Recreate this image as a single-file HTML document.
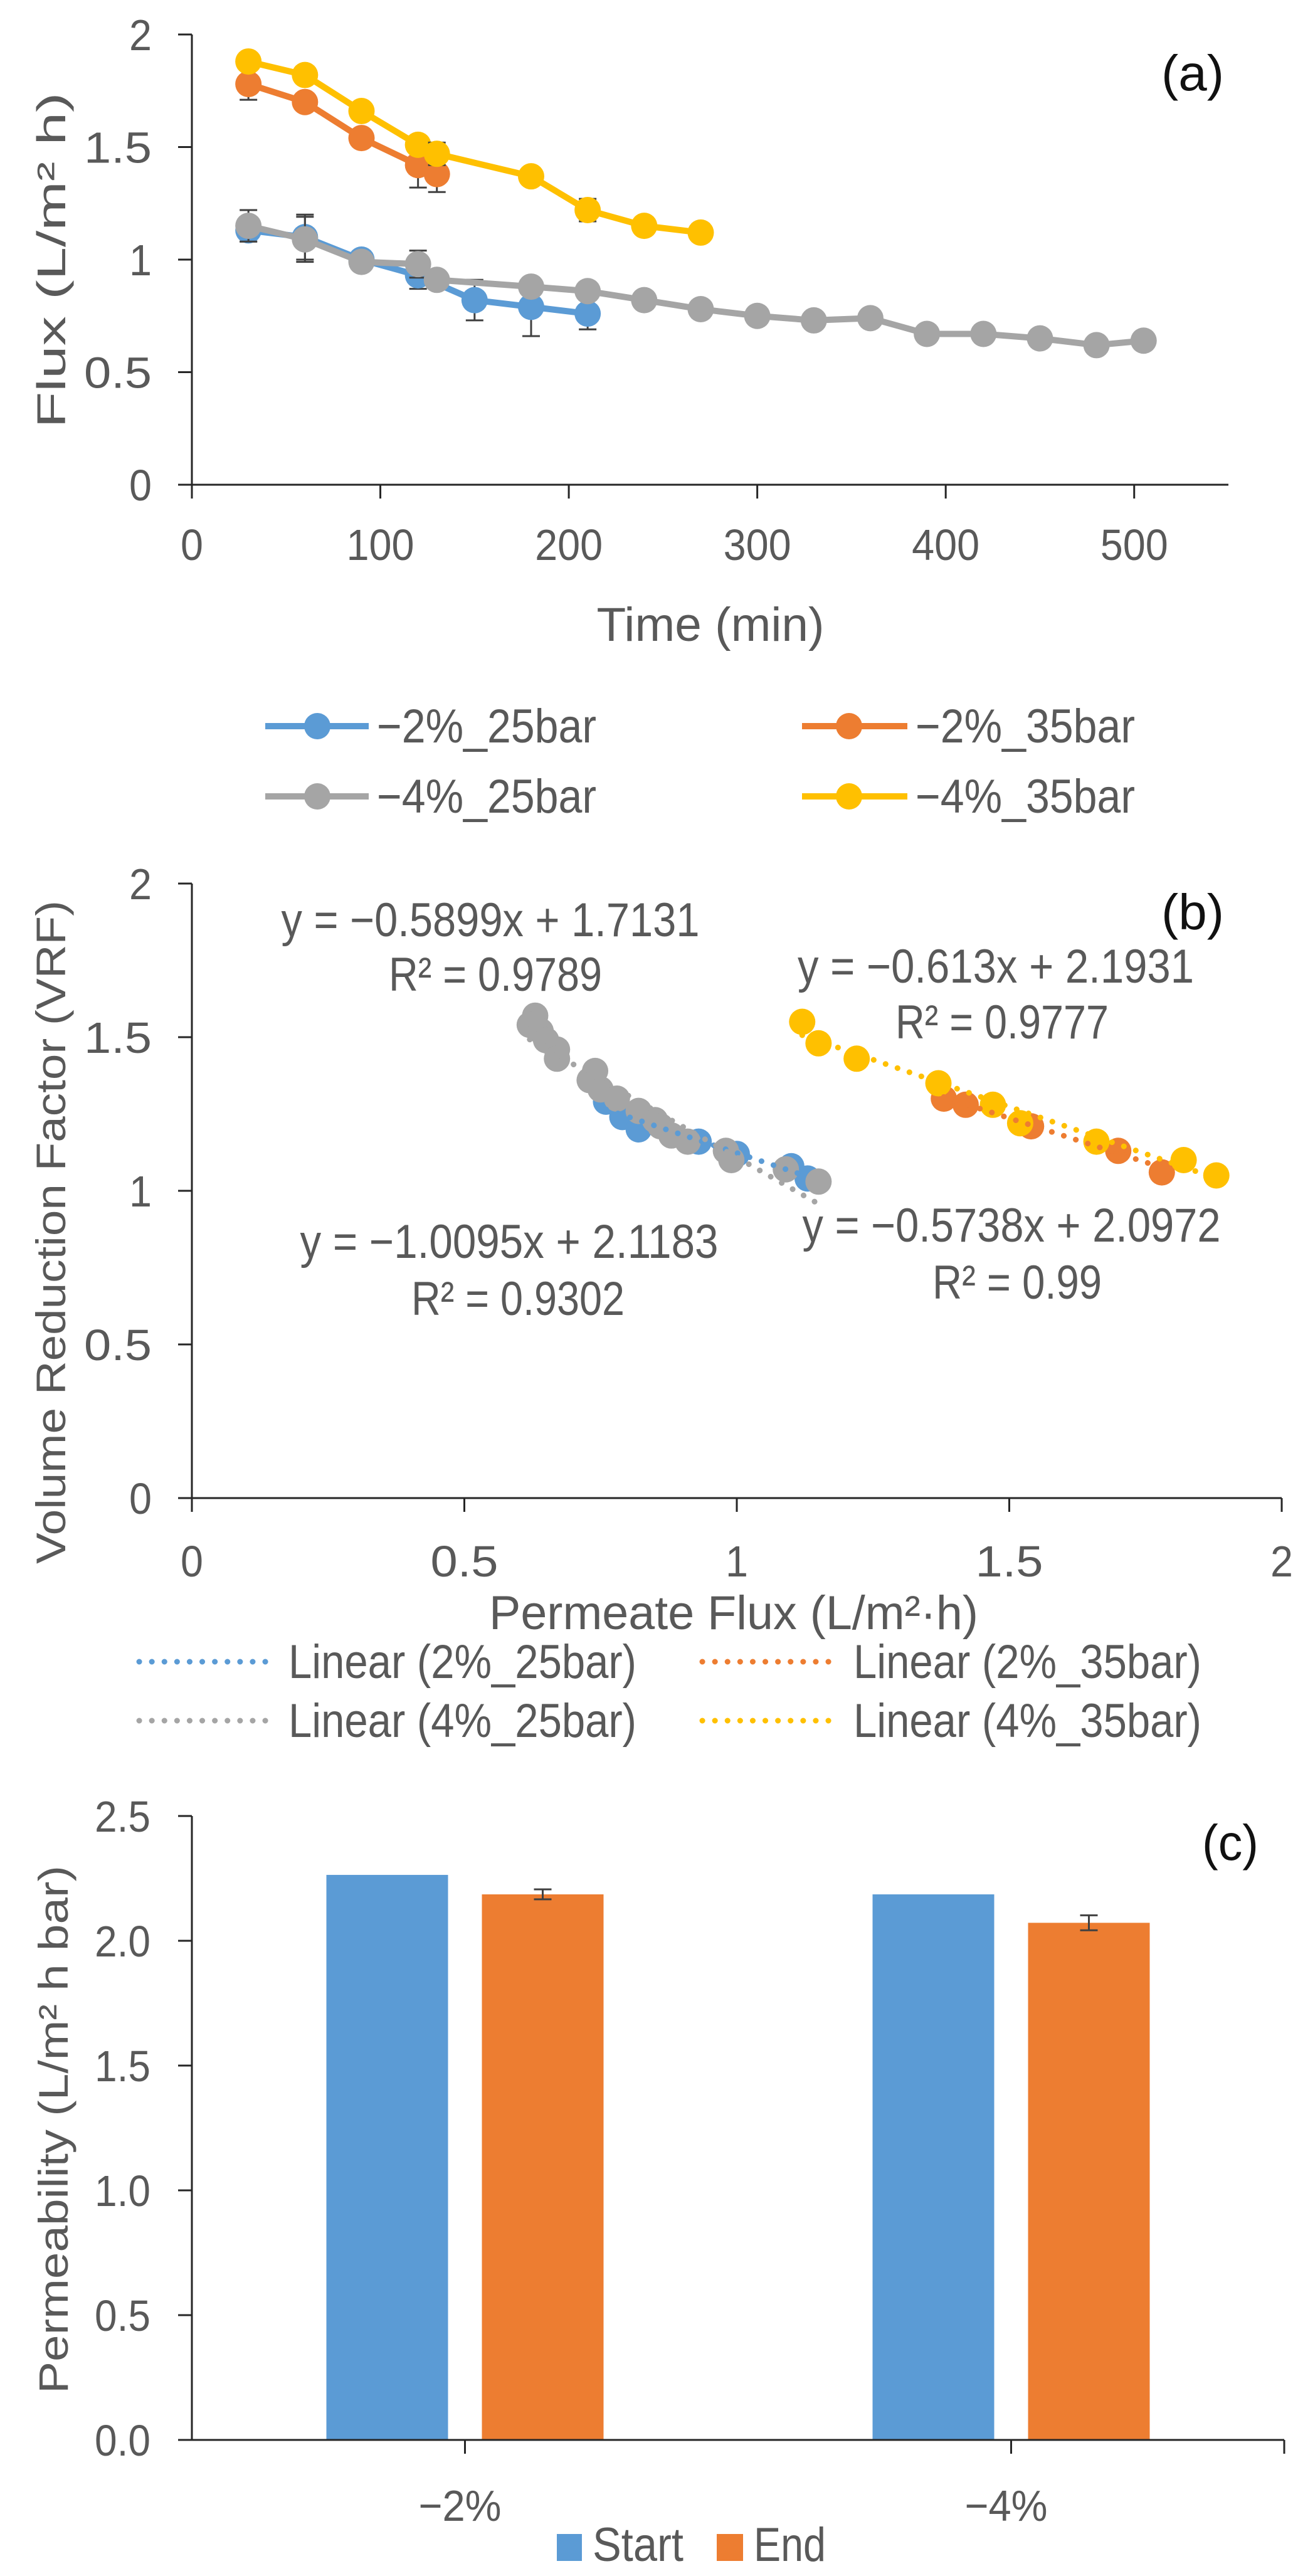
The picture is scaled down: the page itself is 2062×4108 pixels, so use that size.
<!DOCTYPE html>
<html><head><meta charset="utf-8">
<style>
html,body{margin:0;padding:0;background:#fff;}
svg{display:block;}
text{font-family:"Liberation Sans Narrow","Liberation Sans",sans-serif;fill:#595959;}
.wide{font-family:"Liberation Sans",sans-serif;}
</style></head>
<body>
<svg id="fig" width="2062" height="4108" viewBox="0 0 2062 4108" xmlns="http://www.w3.org/2000/svg"></svg>
<script>
// ---------- Chart (a) data ----------
const aXTicks = [0,100,200,300,400,500];
const aYTicks = [0,0.5,1,1.5,2];
const aYTickLabels = ["0","0.5","1","1.5","2"];
const aBlueX = [30,60,90,120,150,180,210];
const aBlueY = [1.13,1.10,1.00,0.93,0.82,0.79,0.76];
const aBlueErr = [0.05,0.1,0,0.06,0.09,0.13,0.07];
const aOrangeX = [30,60,90,120,130];
const aOrangeY = [1.78,1.70,1.54,1.42,1.38];
const aOrangeErr = [0.07,0,0,0.1,0.08];
const aGrayX = [30,60,90,120,130,180,210,240,270,300,330,360,390,420,450,480,505];
const aGrayY = [1.15,1.09,0.99,0.98,0.91,0.88,0.86,0.82,0.78,0.75,0.73,0.74,0.67,0.67,0.65,0.62,0.64];
const aGrayErr = [0.07,0.1,0,0.06,0,0,0,0,0,0,0,0,0,0,0,0,0];
const aYellowX = [30,60,90,120,130,180,210,240,270];
const aYellowY = [1.88,1.82,1.66,1.51,1.47,1.37,1.22,1.15,1.12];
const aYellowErr = [0,0,0,0,0.05,0,0.05,0,0.04];
const aNames = ["\u22122%_25bar","\u22122%_35bar","\u22124%_25bar","\u22124%_35bar"];

// ---------- Chart (b) data ----------
const bXTicks = [0,0.5,1,1.5,2];
const bXTickLabels = ["0","0.5","1","1.5","2"];
const bYTicks = [0,0.5,1,1.5,2];
const bYTickLabels = ["0","0.5","1","1.5","2"];
const bGrayX = [0.63,0.62,0.64,0.65,0.67,0.67,0.74,0.73,0.75,0.78,0.82,0.85,0.86,0.88,0.91,0.98,0.99,1.09,1.15];
const bGrayY = [1.57,1.54,1.52,1.49,1.46,1.43,1.39,1.36,1.33,1.30,1.26,1.23,1.21,1.18,1.16,1.13,1.10,1.07,1.03];
const bBlueX = [0.76,0.79,0.82,0.93,1.00,1.10,1.13];
const bBlueY = [1.29,1.24,1.20,1.16,1.12,1.08,1.04];
const bOrangeX = [1.38,1.42,1.54,1.70,1.78];
const bOrangeY = [1.30,1.28,1.21,1.13,1.06];
const bYellowX = [1.12,1.15,1.22,1.37,1.47,1.52,1.66,1.82,1.88];
const bYellowY = [1.55,1.48,1.43,1.35,1.28,1.22,1.16,1.10,1.05];
const bSlopes = [-0.5899,-0.5738,-1.0095,-0.613];
const bIntercepts = [1.7131,2.0972,2.1183,2.1931];
const bLegend = ["Linear (2%_25bar)","Linear (2%_35bar)","Linear (4%_25bar)","Linear (4%_35bar)"];

// ---------- Chart (c) data ----------
const cCategories = ["\u22122%","\u22124%"];
const cStart = [2.264,2.186];
const cEnd = [2.186,2.072];
const cEndErr = [0.02,0.03];
const cYTicks = [0,0.5,1,1.5,2,2.5];
const cYTickLabels = ["0.0","0.5","1.0","1.5","2.0","2.5"];

const C = {blue:"#5B9BD5",orange:"#ED7D31",gray:"#A5A5A5",yellow:"#FFC000",axis:"#262626",text:"#595959",err:"#404040"};
const svg = document.getElementById('fig');
const NS = "http://www.w3.org/2000/svg";
function el(tag, attrs, parent){
  const e = document.createElementNS(NS, tag);
  for (const k in attrs) e.setAttribute(k, attrs[k]);
  (parent||svg).appendChild(e);
  return e;
}
function txt(x,y,s,size,anchor,len,cls,parent){
  const t = el('text',{x:x,y:y,'font-size':size,'text-anchor':anchor||'middle'},parent);
  if (len){ t.setAttribute('textLength',len); t.setAttribute('lengthAdjust','spacingAndGlyphs'); }
  if (cls) t.setAttribute('class',cls);
  t.textContent = s;
  return t;
}
const TF = 70;           // tick font size
const tw = s => s.length*36; // tick label width

// ================= Chart (a) =================
const ga = el('g',{});


const axA = {x0:306, x1:1959, y0:773, y1:55, xmin:0, xmax:550, ymin:0, ymax:2};
const ax = v => axA.x0 + (v-axA.xmin)/(axA.xmax-axA.xmin)*(axA.x1-axA.x0);
const ay = v => axA.y0 - (v-axA.ymin)/(axA.ymax-axA.ymin)*(axA.y0-axA.y1);
let l;
l = el('line',{x1:axA.x0,y1:ay(2),x2:axA.x0,y2:axA.y0,stroke:C.axis,'stroke-width':3},ga);
 
l = el('line',{x1:284,y1:axA.y0,x2:axA.x1,y2:axA.y0,stroke:C.axis,'stroke-width':3},ga);
 
aYTicks.forEach((v,i)=>{
  el('line',{x1:284,y1:ay(v),x2:axA.x0,y2:ay(v),stroke:C.axis,'stroke-width':3},ga);
  const t = txt(242,ay(v)+25,aYTickLabels[i],TF,'end',tw(aYTickLabels[i]),null,ga);
   
});
aXTicks.forEach(v=>{
  el('line',{x1:ax(v),y1:axA.y0,x2:ax(v),y2:795,stroke:C.axis,'stroke-width':3},ga);
  const t = txt(ax(v),893,String(v),TF,'middle',tw(String(v)),null,ga);
   
});
let tt = txt(1133,1022,"Time (min)",76,'middle',363,null,ga);
 
tt = el('text',{x:0,y:0,'font-size':64,'text-anchor':'middle',transform:'translate(104,415) rotate(-90)',textLength:535,lengthAdjust:'spacingAndGlyphs',class:'wide'},ga);
tt.textContent = "Flux (L/m\u00B2 h)";
 
tt = txt(1902,144,"(a)",80,'middle',100,null,ga);
tt.setAttribute('style','fill:#111');
 

function lineSeries(xs,ys,errs,color,name){
  const g = el('g',{},ga);
   
  const pts = xs.map((x,i)=>ax(x)+','+ay(ys[i])).join(' ');
  el('polyline',{points:pts,fill:'none',stroke:color,'stroke-width':10,'stroke-linejoin':'round'},g);
  xs.forEach((x,i)=>{
    if (errs[i]>0){
      const eg = el('g',{stroke:C.err,'stroke-width':3},g);
       
      el('line',{x1:ax(x),y1:ay(ys[i]-errs[i]),x2:ax(x),y2:ay(ys[i]+errs[i])},eg);
      el('line',{x1:ax(x)-14,y1:ay(ys[i]-errs[i]),x2:ax(x)+14,y2:ay(ys[i]-errs[i])},eg);
      el('line',{x1:ax(x)-14,y1:ay(ys[i]+errs[i]),x2:ax(x)+14,y2:ay(ys[i]+errs[i])},eg);
    }
    const c = el('circle',{cx:ax(x),cy:ay(ys[i]),r:21,fill:color},g);
     
  });
}
lineSeries(aBlueX,aBlueY,aBlueErr,C.blue,'series-2pct-25bar');
lineSeries(aOrangeX,aOrangeY,aOrangeErr,C.orange,'series-2pct-35bar');
lineSeries(aGrayX,aGrayY,aGrayErr,C.gray,'series-4pct-25bar');
lineSeries(aYellowX,aYellowY,aYellowErr,C.yellow,'series-4pct-35bar');

const aLegCols = [[423,588,506,601],[1279,1447,1354,1460]];
const aLegRows = [1158,1270];
const aLegColors = [C.blue,C.orange,C.gray,C.yellow];
aNames.forEach((n,i)=>{
  const col = aLegCols[i%2], row = aLegRows[Math.floor(i/2)];
  const g = el('g',{},ga);
   
  el('line',{x1:col[0],y1:row,x2:col[1],y2:row,stroke:aLegColors[i],'stroke-width':10},g);
  el('circle',{cx:col[2],cy:row,r:21,fill:aLegColors[i]},g);
  txt(col[3],row+26,n,76,'start',350,null,g);
});

// ================= Chart (b) =================
const gb = el('g',{});


const axB = {x0:306, x1:2044, y0:2389, y1:1409};
const bx = v => axB.x0 + v/2*(axB.x1-axB.x0);
const by = v => axB.y0 - v/2*(axB.y0-axB.y1);
l = el('line',{x1:axB.x0,y1:axB.y1,x2:axB.x0,y2:axB.y0,stroke:C.axis,'stroke-width':3},gb);
 
l = el('line',{x1:284,y1:axB.y0,x2:axB.x1,y2:axB.y0,stroke:C.axis,'stroke-width':3},gb);
 
bYTicks.forEach((v,i)=>{
  el('line',{x1:284,y1:by(v),x2:axB.x0,y2:by(v),stroke:C.axis,'stroke-width':3},gb);
  const t = txt(242,by(v)+25,bYTickLabels[i],TF,'end',tw(bYTickLabels[i]),null,gb);
   
});
bXTicks.forEach((v,i)=>{
  el('line',{x1:bx(v),y1:axB.y0,x2:bx(v),y2:2411,stroke:C.axis,'stroke-width':3},gb);
  const t = txt(bx(v),2514,bXTickLabels[i],TF,'middle',tw(bXTickLabels[i]),null,gb);
   
});
tt = txt(1170,2598,"Permeate Flux (L/m\u00B2\u00B7h)",76,'middle',780,null,gb);
 
tt = el('text',{x:0,y:0,'font-size':66,'text-anchor':'middle',transform:'translate(104,1965) rotate(-90)',textLength:1058,lengthAdjust:'spacingAndGlyphs',class:'wide'},gb);
tt.textContent = "Volume Reduction Factor (VRF)";
 
tt = txt(1902,1482,"(b)",80,'middle',100,null,gb);
tt.setAttribute('style','fill:#111');
 

function scatter(xs,ys,color,name){
  const g = el('g',{},gb);
   
  xs.forEach((x,i)=>{
    const c = el('circle',{cx:bx(x),cy:by(ys[i]),r:21,fill:color},g);
     
  });
}
function trend(xs,slope,icpt,color,name){
  const x0 = Math.min(...xs), x1 = Math.max(...xs);
  const ln = el('line',{x1:bx(x0),y1:by(slope*x0+icpt),x2:bx(x1),y2:by(slope*x1+icpt),stroke:color,'stroke-width':9,'stroke-dasharray':'0.1 20','stroke-linecap':'round'},gb);
   
}
scatter(bBlueX,bBlueY,C.blue,'scatter-2pct-25bar');
scatter(bGrayX,bGrayY,C.gray,'scatter-4pct-25bar');
scatter(bOrangeX,bOrangeY,C.orange,'scatter-2pct-35bar');
scatter(bYellowX,bYellowY,C.yellow,'scatter-4pct-35bar');
trend(bBlueX,bSlopes[0],bIntercepts[0],C.blue,'trendline-2pct-25bar');
trend(bOrangeX,bSlopes[1],bIntercepts[1],C.orange,'trendline-2pct-35bar');
trend(bGrayX,bSlopes[2],bIntercepts[2],C.gray,'trendline-4pct-25bar');
trend(bYellowX,bSlopes[3],bIntercepts[3],C.yellow,'trendline-4pct-35bar');

function eq(cx,cy,s,len,name){
  const t = txt(cx,cy+26,s,76,'middle',len,null,gb);
   
}
eq(782,1467,"y = \u22120.5899x + 1.7131",667,'equation-2pct-25bar');
eq(790,1554,"R\u00B2 = 0.9789",340,'r2-2pct-25bar');
eq(1588,1541,"y = \u22120.613x + 2.1931",632,'equation-4pct-35bar');
eq(1598,1630,"R\u00B2 = 0.9777",340,'r2-4pct-35bar');
eq(812,1980,"y = \u22121.0095x + 2.1183",667,'equation-4pct-25bar');
eq(826,2071,"R\u00B2 = 0.9302",340,'r2-4pct-25bar');
eq(1613,1954,"y = \u22120.5738x + 2.0972",667,'equation-2pct-35bar');
eq(1622,2045,"R\u00B2 = 0.99",270,'r2-2pct-35bar');

const bLegCols = [[222,429,460],[1120,1332,1361]];
const bLegRows = [2650,2744];
bLegend.forEach((n,i)=>{
  const col = bLegCols[i%2], row = bLegRows[Math.floor(i/2)];
  const g = el('g',{},gb);
   
  el('line',{x1:col[0],y1:row,x2:col[1],y2:row,stroke:aLegColors[i],'stroke-width':9,'stroke-dasharray':'0.1 20','stroke-linecap':'round'},g);
  txt(col[2],row+26,n,76,'start',555,null,g);
});

// ================= Chart (c) =================
const gc = el('g',{});


const axC = {x0:306, x1:2048, y0:3891, y1:2896, ymax:2.5};
const cy = v => axC.y0 - v/axC.ymax*(axC.y0-axC.y1);
const catW = (axC.x1-axC.x0)/cCategories.length;
const catC = i => axC.x0 + catW*(i+0.5);
const barW = 194, barGap = 54;
l = el('line',{x1:axC.x0,y1:axC.y1,x2:axC.x0,y2:axC.y0,stroke:C.axis,'stroke-width':3},gc);
 
cYTicks.forEach((v,i)=>{
  el('line',{x1:284,y1:cy(v),x2:axC.x0,y2:cy(v),stroke:C.axis,'stroke-width':3},gc);
  const t = txt(240,cy(v)+25,cYTickLabels[i],TF,'end',89,null,gc);
   
});
cCategories.forEach((c,i)=>{
  const cx = catC(i);
  const b1 = el('rect',{x:cx-barGap/2-barW,y:cy(cStart[i]),width:barW,height:axC.y0-cy(cStart[i]),fill:C.blue},gc);
   
  const b2 = el('rect',{x:cx+barGap/2,y:cy(cEnd[i]),width:barW,height:axC.y0-cy(cEnd[i]),fill:C.orange},gc);
   
  const ex = cx+barGap/2+barW/2;
  const eg = el('g',{stroke:C.err,'stroke-width':3},gc);
   
  el('line',{x1:ex,y1:cy(cEnd[i]-cEndErr[i]),x2:ex,y2:cy(cEnd[i]+cEndErr[i])},eg);
  el('line',{x1:ex-14,y1:cy(cEnd[i]-cEndErr[i]),x2:ex+14,y2:cy(cEnd[i]-cEndErr[i])},eg);
  el('line',{x1:ex-14,y1:cy(cEnd[i]+cEndErr[i]),x2:ex+14,y2:cy(cEnd[i]+cEndErr[i])},eg);
  el('line',{x1:cx,y1:axC.y0,x2:cx,y2:3913,stroke:C.axis,'stroke-width':3},gc);
  const t = txt(cx-8,4020,c,TF,'middle',132,null,gc);
   
});
el('line',{x1:axC.x1,y1:axC.y0,x2:axC.x1,y2:3913,stroke:C.axis,'stroke-width':3},gc);
l = el('line',{x1:284,y1:axC.y0,x2:axC.x1,y2:axC.y0,stroke:C.axis,'stroke-width':3},gc);
 
tt = el('text',{x:0,y:0,'font-size':66,'text-anchor':'middle',transform:'translate(108,3396) rotate(-90)',textLength:842,lengthAdjust:'spacingAndGlyphs',class:'wide'},gc);
tt.textContent = "Permeability (L/m\u00B2 h bar)";
 
tt = txt(1962,2966,"(c)",80,'middle',90,null,gc);
tt.setAttribute('style','fill:#111');
 
let lg = el('g',{},gc);
 
el('rect',{x:888,y:4041,width:40,height:43,fill:C.blue},lg);
txt(945,4084,"Start",76,'start',145,null,lg);
lg = el('g',{},gc);
 
el('rect',{x:1143,y:4041,width:42,height:43,fill:C.orange},lg);
txt(1202,4084,"End",76,'start',115,null,lg);
</script>
</body></html>
